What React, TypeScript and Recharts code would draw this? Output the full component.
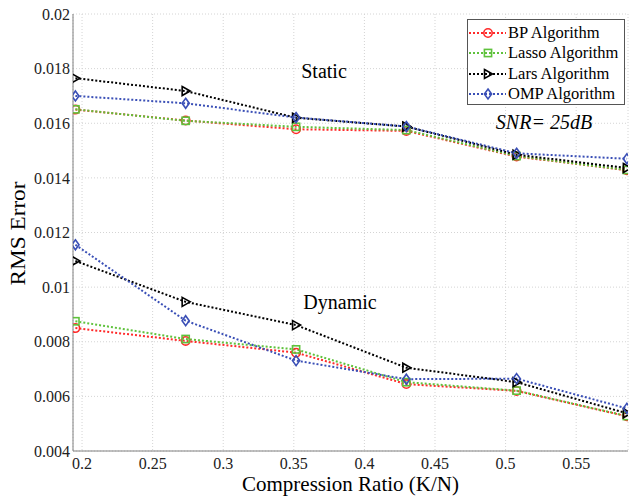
import React from "react";
import {
  LineChart,
  Line,
  XAxis,
  YAxis,
  CartesianGrid,
  ReferenceDot,
  Label,
} from "recharts";

const FONT = '"Liberation Serif", "Times New Roman", serif';

// compression ratio K/N
const ratio = [0.1953, 0.2734, 0.3516, 0.4297, 0.5078, 0.5859];

const bpStatic = [0.0165, 0.0161, 0.01578, 0.01572, 0.01478, 0.01428];
const lassoStatic = [0.01651, 0.01609, 0.01587, 0.01575, 0.0148, 0.01429];
const larsStatic = [0.01765, 0.01718, 0.0162, 0.01588, 0.01485, 0.01436];
const ompStatic = [0.017, 0.01673, 0.01621, 0.01588, 0.0149, 0.0147];

const bpDynamic = [0.0085, 0.00803, 0.0076, 0.00645, 0.0062, 0.00527];
const lassoDynamic = [0.00875, 0.0081, 0.00772, 0.00652, 0.00621, 0.00528];
const larsDynamic = [0.01096, 0.00946, 0.00861, 0.00705, 0.00652, 0.00538];
const ompDynamic = [0.01155, 0.00877, 0.00731, 0.00663, 0.00665, 0.00556];

const xTicks = [0.2, 0.25, 0.3, 0.35, 0.4, 0.45, 0.5, 0.55];
const yTicks = [0.004, 0.006, 0.008, 0.01, 0.012, 0.014, 0.016, 0.018, 0.02];

const X_DOMAIN: [number, number] = [0.1936, 0.5867];
const Y_DOMAIN: [number, number] = [0.004, 0.02];

const data = ratio.map((r, i) => ({
  ratio: r,
  bpS: bpStatic[i],
  lassoS: lassoStatic[i],
  larsS: larsStatic[i],
  ompS: ompStatic[i],
  bpD: bpDynamic[i],
  lassoD: lassoDynamic[i],
  larsD: larsDynamic[i],
  ompD: ompDynamic[i],
}));

type Kind = "circle" | "square" | "triangle" | "diamond";

const series: { name: string; color: string; kind: Kind; keys: string[] }[] = [
  { name: "BP Algorithm", color: "#ff2a2a", kind: "circle", keys: ["bpS", "bpD"] },
  { name: "Lasso Algorithm", color: "#5fc23c", kind: "square", keys: ["lassoS", "lassoD"] },
  { name: "Lars Algorithm", color: "#000000", kind: "triangle", keys: ["larsS", "larsD"] },
  { name: "OMP Algorithm", color: "#3a4fb6", kind: "diamond", keys: ["ompS", "ompD"] },
];

function Marker({ kind, cx, cy, color }: { kind: Kind; cx: number; cy: number; color: string }) {
  const common = { fill: "none", stroke: color, strokeWidth: 1.6 };
  if (kind === "circle") return <circle cx={cx} cy={cy} r={4.2} {...common} />;
  if (kind === "square") return <rect x={cx - 3.6} y={cy - 3.6} width={7.2} height={7.2} {...common} />;
  if (kind === "triangle")
    return <polygon points={`${cx - 3.5},${cy - 4.5} ${cx + 4.5},${cy} ${cx - 3.5},${cy + 4.5}`} {...common} />;
  return <polygon points={`${cx},${cy - 5} ${cx + 3.6},${cy} ${cx},${cy + 5} ${cx - 3.6},${cy}`} {...common} />;
}

const makeDot = (kind: Kind, color: string) => (p: any) => (
  <Marker key={p.key ?? `${p.cx}-${p.cy}`} kind={kind} cx={p.cx} cy={p.cy} color={color} />
);

// tick labels in serif (the tick object font props did not stick)
const XTick = (p: any) => (
  <text x={p.x} y={p.y} dy="0.71em" textAnchor="middle" fontFamily={FONT} fontSize={16} fill="#222">
    {p.payload.value}
  </text>
);
const YTick = (p: any) => (
  <text x={p.x} y={p.y} dy="0.355em" textAnchor="end" fontFamily={FONT} fontSize={16} fill="#222">
    {p.payload.value}
  </text>
);

const Legendbox = () => (
  <div
    style={{
      position: "absolute",
      left: 467,
      top: 19,
      width: 158,
      height: 86,
      border: "1px solid #555",
      background: "#fff",
      fontFamily: FONT,
      fontSize: 16.5,
      paddingTop: 3,
      boxSizing: "border-box",
      whiteSpace: "nowrap",
    }}
  >
    {series.map((s) => (
      <div key={s.name} style={{ display: "flex", alignItems: "center", height: 20.3 }}>
        <svg width={40} height={16} style={{ flex: "none" }}>
          <line x1={1} y1={8} x2={38} y2={8} stroke={s.color} strokeWidth={2} strokeDasharray="2 2" />
          <Marker kind={s.kind} cx={20} cy={8} color={s.color} />
        </svg>
        <span style={{ color: "#000", lineHeight: "20px" }}>{s.name}</span>
      </div>
    ))}
  </div>
);

const textAt = (text: string, size: number, italic = false) => (p: any) => (
  <text
    x={p.cx}
    y={p.cy}
    textAnchor="middle"
    dominantBaseline="central"
    fontFamily={FONT}
    fontSize={size}
    fontStyle={italic ? "italic" : "normal"}
    fill="#000"
  >
    {text}
  </text>
);

export default function App() {
  return (
    <div style={{ position: "absolute", left: 0, top: 0, width: 629, height: 499, background: "#fff" }}>
      <LineChart width={629} height={499} data={data} margin={{ top: 14, right: 1, bottom: 0, left: 0 }}>
        <CartesianGrid stroke="#d4d4d4" strokeDasharray="1 2" />
        <XAxis
          dataKey="ratio"
          type="number"
          domain={X_DOMAIN}
          ticks={xTicks}
          allowDataOverflow
          height={48}
          stroke="#808080"
          tickLine={false}
          tickSize={0}
          tickMargin={7}
          tick={<XTick />}
        >
          <Label
            content={(p: any) => (
              <text
                x={p.viewBox.x + p.viewBox.width / 2}
                y={491}
                textAnchor="middle"
                fontFamily={FONT}
                fontSize={21}
                fill="#000"
              >
                Compression Ratio (K/N)
              </text>
            )}
          />
        </XAxis>
        <XAxis
          xAxisId="top"
          orientation="top"
          type="number"
          dataKey="ratio"
          domain={X_DOMAIN}
          ticks={xTicks}
          allowDataOverflow
          mirror
          tick={false}
          tickSize={4}
          height={0}
          stroke="#808080"
        />
        <XAxis
          xAxisId="bottomIn"
          orientation="bottom"
          type="number"
          dataKey="ratio"
          domain={X_DOMAIN}
          ticks={xTicks}
          allowDataOverflow
          mirror
          tick={false}
          tickSize={4}
          height={0}
          axisLine={false}
          stroke="#808080"
        />
        <YAxis
          type="number"
          domain={Y_DOMAIN}
          ticks={yTicks}
          allowDataOverflow
          width={73}
          stroke="#808080"
          tickLine={false}
          tickSize={0}
          tickMargin={3}
          tick={<YTick />}
        >
          <Label
            content={(p: any) => {
              const cy = p.viewBox.y + p.viewBox.height / 2 + 1;
              return (
                <text
                  x={25}
                  y={cy}
                  transform={`rotate(-90 25 ${cy})`}
                  textAnchor="middle"
                  fontFamily={FONT}
                  fontSize={21}
                  textLength={104}
                  lengthAdjust="spacingAndGlyphs"
                  fill="#000"
                >
                  RMS Error
                </text>
              );
            }}
          />
        </YAxis>
        <YAxis
          yAxisId="leftIn"
          orientation="left"
          type="number"
          domain={Y_DOMAIN}
          ticks={yTicks}
          allowDataOverflow
          mirror
          tick={false}
          tickSize={4}
          width={0}
          axisLine={false}
          stroke="#808080"
        />
        <YAxis
          yAxisId="right"
          orientation="right"
          type="number"
          domain={Y_DOMAIN}
          ticks={yTicks}
          allowDataOverflow
          mirror
          tick={false}
          tickSize={4}
          width={0}
          stroke="#808080"
        />
        {series.flatMap((s) =>
          s.keys.map((k) => (
            <Line
              key={k}
              dataKey={k}
              stroke={s.color}
              strokeWidth={2}
              strokeDasharray="2 2"
              dot={makeDot(s.kind, s.color)}
              activeDot={false}
              isAnimationActive={false}
              legendType="none"
            />
          ))
        )}
        <ReferenceDot x={0.3714} y={0.0179} r={0} shape={textAt("Static", 20)} />
        <ReferenceDot x={0.3827} y={0.00946} r={0} shape={textAt("Dynamic", 20)} />
        <ReferenceDot x={0.5272} y={0.01603} r={0} shape={textAt("SNR= 25dB", 20, true)} />
      </LineChart>
      <Legendbox />
    </div>
  );
}
